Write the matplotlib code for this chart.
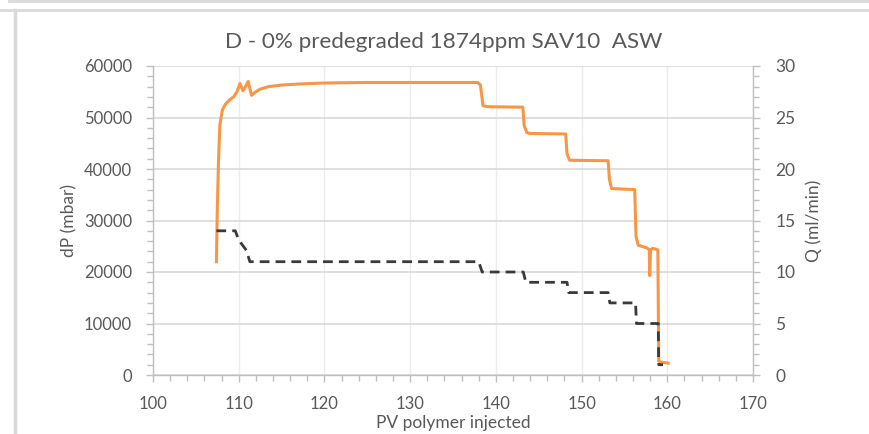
import matplotlib
matplotlib.use('Agg')
import matplotlib.pyplot as plt
from matplotlib.lines import Line2D
from matplotlib.ticker import MultipleLocator

plt.rcParams['font.family'] = ['Lato', 'DejaVu Sans']

# dP (mbar) vs PV polymer injected
pv_dp = [107.4, 107.5, 107.65, 107.8, 108.1, 108.5, 109.0, 109.4, 109.8, 110.15,
         110.5, 110.8, 111.1, 111.5, 112.0, 112.5, 113.5, 115.0, 117.0, 120.0,
         125.0, 130.0, 137.9, 138.2, 138.5, 139.0, 143.15, 143.3, 143.6, 144.0,
         148.15, 148.3, 148.6, 153.1, 153.25, 153.5, 156.2, 156.35, 156.6, 157.6,
         157.9, 157.95, 158.05, 158.3, 158.9, 159.0, 159.3, 160.1]
dp = [22000, 32000, 42000, 48500, 51500, 52700, 53500, 54000, 55000, 56600,
      55200, 56000, 57000, 54300, 55000, 55500, 56000, 56300, 56500, 56700,
      56800, 56800, 56800, 56300, 52300, 52100, 52000, 48500, 47100, 46900,
      46800, 43000, 41700, 41600, 38000, 36200, 36000, 27000, 25200, 24700,
      24300, 19300, 24300, 24600, 24300, 2700, 2500, 2300]

# Q (ml/min) vs PV polymer injected
pv_q = [107.4, 109.6, 110.0, 110.9, 111.3, 138.0, 138.4, 143.2, 143.5, 148.3,
        148.5, 153.1, 153.3, 156.3, 156.4, 158.95, 159.0, 159.5]
q = [14, 14, 13.1, 12.1, 11, 11, 10, 10, 9, 9,
     8, 8, 7, 7, 5, 5, 1, 1]

W, H = 869, 434
fig = plt.figure(figsize=(W / 100, H / 100), dpi=100)
ax = fig.add_axes([153 / W, (H - 375) / H, 600 / W, 309 / H])
ax2 = ax.twinx()

txt = '#595959'
grid = '#d9d9d9'

ax.plot(pv_dp, dp, color='#f79646', lw=2.2, zorder=3)
ax2.plot(pv_q, q, color='#3a3a3a', lw=2.0, dashes=(3.5, 2.2), zorder=3)

ax.set_xlim(100, 170)
ax.set_ylim(0, 60000)
ax2.set_ylim(0, 30)
ax.xaxis.set_major_locator(MultipleLocator(10))
ax.xaxis.set_minor_locator(MultipleLocator(2))
ax.yaxis.set_major_locator(MultipleLocator(10000))
ax.yaxis.set_minor_locator(MultipleLocator(2000))
ax2.yaxis.set_major_locator(MultipleLocator(5))
ax2.yaxis.set_minor_locator(MultipleLocator(1))

ax.grid(axis='y', color=grid, lw=1.2)
ax.grid(axis='x', color='#ececec', lw=1.0)
ax.set_axisbelow(True)

for a in (ax, ax2):
    for s in a.spines.values():
        s.set_visible(False)
ax.spines['left'].set_visible(True)
ax.spines['bottom'].set_visible(True)
ax2.spines['right'].set_visible(True)
for s in (ax.spines['left'], ax.spines['bottom'], ax2.spines['right']):
    s.set_color('#bfbfbf')
    s.set_linewidth(1.0)

ax.tick_params(axis='both', which='both', colors='#bfbfbf', labelcolor=txt,
               labelsize=12, direction='out')
ax.tick_params(axis='both', which='major', length=5, width=1)
ax.tick_params(axis='both', which='minor', length=4, width=1)
ax.tick_params(axis='y', pad=10)
ax.tick_params(axis='x', pad=10)
ax2.tick_params(axis='y', which='both', colors='#bfbfbf', labelcolor=txt,
                labelsize=12.5, direction='out', pad=11)
ax2.tick_params(axis='y', which='major', length=5, width=1)
ax2.tick_params(axis='y', which='minor', length=4, width=1)

ax.set_title('D - 0% predegraded 1874ppm SAV10  ASW', color=txt, fontsize=16.2,
             pad=13, x=0.485)
ax.set_ylabel('dP (mbar)', color=txt, fontsize=12.5, labelpad=5)
ax2.set_ylabel('Q (ml/min)', color=txt, fontsize=12.5, labelpad=7)
ax.set_xlabel('PV polymer injected', color=txt, fontsize=12.5, labelpad=2)

# surrounding window frame lines
fl = '#d9d9d9'
fig.add_artist(Line2D([9 / W, 1], [1 - 1 / H, 1 - 1 / H], transform=fig.transFigure, color=fl, lw=2))
fig.add_artist(Line2D([0, 1], [1 - 10 / H, 1 - 10 / H], transform=fig.transFigure, color=fl, lw=2))
fig.add_artist(Line2D([15 / W, 15 / W], [0, 1 - 10 / H], transform=fig.transFigure, color=fl, lw=2.5))

fig.savefig('out.png', dpi=100)
